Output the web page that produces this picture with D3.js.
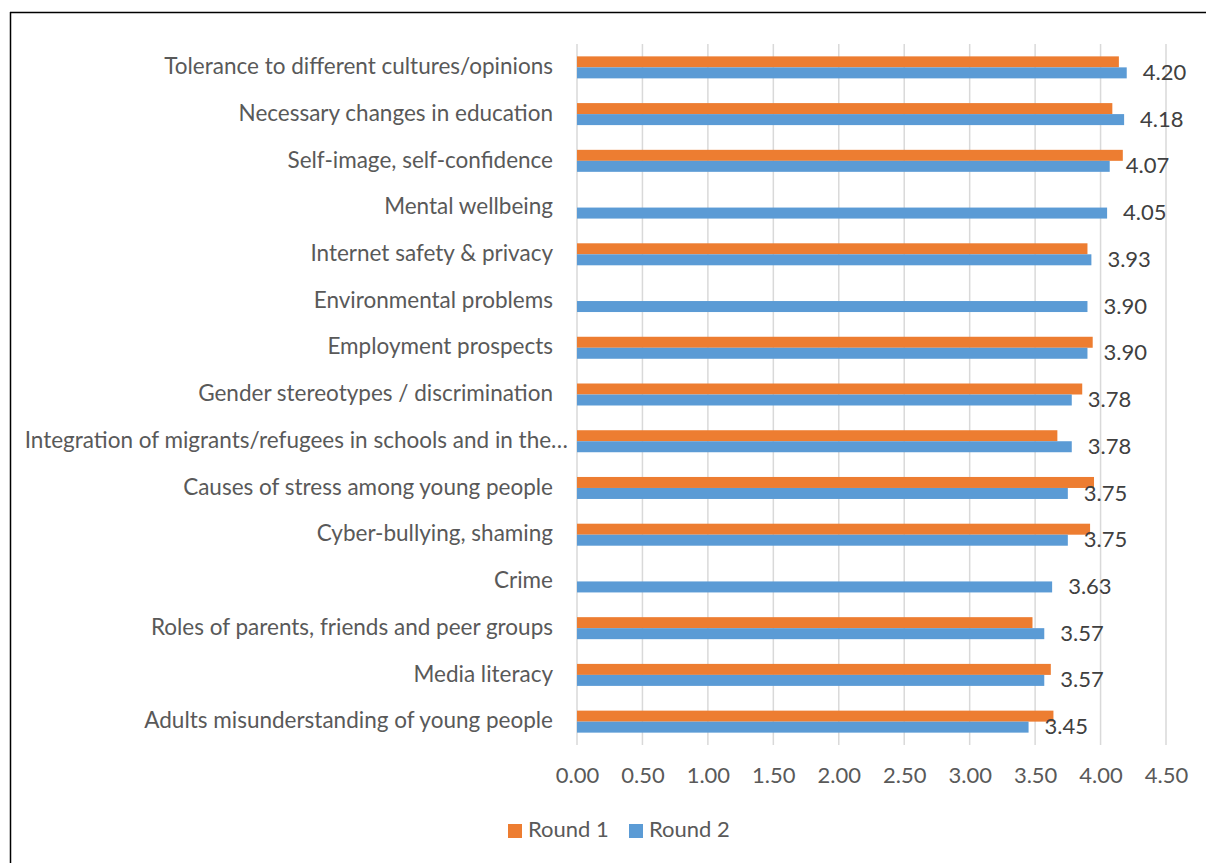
<!DOCTYPE html>
<html>
<head>
<meta charset="utf-8">
<script src="https://cdn.jsdelivr.net/npm/d3@7"></script>
<style>
  html, body { margin: 0; padding: 0; background: #fff; }
  svg { display: block; }
  text { font-family: Lato, "Open Sans", sans-serif; }
</style>
</head>
<body>
<svg id="chart" width="1206" height="863"></svg>
<script>
// Survey topics, top to bottom
const categories = [
  "Tolerance to different cultures/opinions",
  "Necessary changes in education",
  "Self-image, self-confidence",
  "Mental wellbeing",
  "Internet safety & privacy",
  "Environmental problems",
  "Employment prospects",
  "Gender stereotypes / discrimination",
  "Integration of migrants/refugees in schools and in the\u2026",
  "Causes of stress among young people",
  "Cyber-bullying, shaming",
  "Crime",
  "Roles of parents, friends and peer groups",
  "Media literacy",
  "Adults misunderstanding of young people"
];

// Mean scores per round (null = topic not asked in that round)
const round1 = [4.14, 4.09, 4.17, null, 3.90, null, 3.94, 3.86, 3.67, 3.95, 3.92, null, 3.48, 3.62, 3.64];
const round2 = [4.20, 4.18, 4.07, 4.05, 3.93, 3.90, 3.90, 3.78, 3.78, 3.75, 3.75, 3.63, 3.57, 3.57, 3.45];

const seriesNames = ["Round 1", "Round 2"];
const seriesColors = ["#ED7D31", "#5B9BD5"];
const xTicks = [0, 0.5, 1, 1.5, 2, 2.5, 3, 3.5, 4, 4.5];

const svg = d3.select("#chart");
const W = 1206, H = 863;
const FONT = "Lato, 'Open Sans', sans-serif";

// Frame lines along the top and left edges
svg.append("line").attr("x1", 10).attr("x2", W).attr("y1", 12.5).attr("y2", 12.5)
  .attr("stroke", "#000").attr("stroke-width", 1.5);
svg.append("line").attr("x1", 10.5).attr("x2", 10.5).attr("y1", 12).attr("y2", H)
  .attr("stroke", "#000").attr("stroke-width", 1.5);

const plot = { left: 577, right: 1166, top: 44, bottom: 745 };

const x = d3.scaleLinear().domain([0, 4.5]).range([plot.left, plot.right]);
const y = d3.scaleBand().domain(categories).range([plot.top, plot.bottom]).padding(0);
const barH = 11;
const ySeries = d3.scaleBand().domain(seriesNames)
  .range([y.bandwidth() / 2 - barH, y.bandwidth() / 2 + barH]).padding(0);

// Vertical gridlines
svg.append("g").selectAll("line").data(xTicks).join("line")
  .attr("x1", d => x(d)).attr("x2", d => x(d))
  .attr("y1", plot.top).attr("y2", plot.bottom)
  .attr("stroke", "#d9d9d9").attr("stroke-width", 1.5);

// X axis tick labels
const xAxis = d3.axisBottom(x).tickValues(xTicks).tickFormat(d3.format(".2f")).tickSize(0).tickPadding(0);
const gx = svg.append("g").attr("transform", `translate(0,${plot.bottom})`).call(xAxis);
gx.select(".domain").remove();
gx.selectAll("text").attr("font-size", 22).attr("fill", "#595959")
  .attr("dy", null).attr("y", 32).attr("dominant-baseline", "middle")
  .style("font-family", FONT);

// Category labels (a truncated label sits a little closer to the bars)
const yAxis = d3.axisLeft(y).tickSize(0).tickPadding(24);
const gy = svg.append("g").attr("transform", `translate(${plot.left},0)`).call(yAxis);
gy.select(".domain").remove();
gy.selectAll("text").attr("font-size", 22.5).attr("fill", "#595959")
  .attr("dy", null).attr("y", 1).attr("dominant-baseline", "middle")
  .attr("x", d => d.endsWith("\u2026") ? -9 : -24)
  .style("font-family", FONT);

// Bars
const rows = categories.map((c, i) => ({ c, vals: [round1[i], round2[i]] }));
const groups = svg.append("g").selectAll("g").data(rows).join("g")
  .attr("transform", d => `translate(0,${y(d.c)})`);

groups.selectAll("rect")
  .data(d => d.vals.map((v, k) => ({ v, k })).filter(e => e.v != null))
  .join("rect")
  .attr("x", x(0))
  .attr("y", e => ySeries(seriesNames[e.k]))
  .attr("width", e => x(e.v) - x(0))
  .attr("height", ySeries.bandwidth())
  .attr("fill", e => seriesColors[e.k]);

// Value labels for Round 2
groups.append("text")
  .attr("x", d => x(d.vals[1]) + 16)
  .attr("y", ySeries("Round 2") + ySeries.bandwidth() / 2 + 1.5)
  .attr("dominant-baseline", "middle")
  .attr("font-size", 22)
  .attr("fill", "#404040")
  .text(d => d3.format(".2f")(d.vals[1]));

// Legend
const legend = svg.append("g").attr("transform", "translate(508,831)");
const legendX = [0, 121];
seriesNames.forEach((name, k) => {
  const g = legend.append("g").attr("transform", `translate(${legendX[k]},0)`);
  g.append("rect").attr("x", 0).attr("y", -7).attr("width", 14).attr("height", 14).attr("fill", seriesColors[k]);
  g.append("text").attr("x", 20).attr("y", 0).attr("dominant-baseline", "middle")
    .attr("font-size", 22).attr("fill", "#595959").text(name);
});
</script>
</body>
</html>
